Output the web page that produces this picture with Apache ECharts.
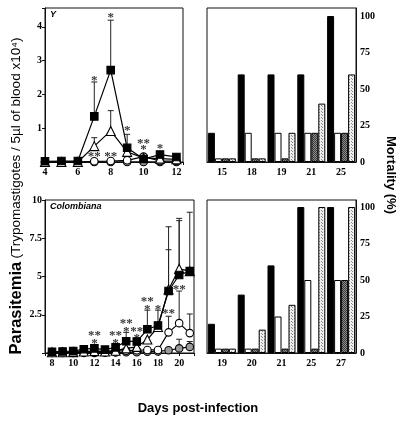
<!DOCTYPE html>
<html><head><meta charset="utf-8">
<script src="https://cdn.jsdelivr.net/npm/echarts@6/dist/echarts.min.js"></script>
<style>html,body{margin:0;padding:0;background:#fff}#c{width:402px;height:421px}</style>
</head><body><div id="c"></div>
<script>
// ---- Top-left (Y strain) parasitemia ----
const topDays = [4,5,6,7,8,9,10,11,12];
const topSquare = [0.02,0.03,0.03,1.35,2.72,0.42,0.09,0.22,0.15];
const topTriangle = [0,0,0,0.47,0.92,0.3,0.12,0.1,0.08];
const topCircle = [0,0,0,0.02,0.03,0.05,0.16,0.03,0.03];
const topGray = [0,0,0,0,0,0,0,0,0];
const topSquareUpper = [null,null,null,2.37,4.2,0.82,null,null,null];
const topTriangleUpper = [null,null,null,0.72,1.52,null,null,null,null];
const topStars = [[7,2.48,'*'],[8,4.35,'*'],[9,1.0,'*'],[7,0.24,'**'],[8,0.24,'**'],[10,0.61,'**'],[10,0.43,'*'],[11,0.48,'*']];

// ---- Bottom-left (Colombiana strain) parasitemia ----
const botDays = [8,9,10,11,12,13,14,15,16,17,18,19,20,21];
const botSquare = [0.08,0.1,0.12,0.25,0.3,0.22,0.37,0.77,0.75,1.55,1.8,4.05,5.1,5.35];
const botTriangle = [0.05,0.05,0.06,0.1,0.12,0.1,0.15,0.3,0.4,0.88,1.7,4.15,5.5,5.35];
const botCircle = [0.02,0.03,0.03,0.05,0.05,0.08,0.12,0.15,0.18,0.2,0.2,1.35,1.95,1.3];
const botGray = [0.01,0.01,0.01,0.01,0.01,0.02,0.03,0.05,0.05,0.08,0.1,0.18,0.3,0.4];
const botSquareUpper = [null,null,null,null,null,null,null,1.35,null,2.8,2.8,8.25,8.65,9.2];
const botTriangleUpper = [null,null,null,null,null,null,null,null,null,null,null,6.75,8.8,null];
const botCircleUpper = [null,null,null,null,null,null,null,null,null,null,null,2.4,4.05,2.55];
const botGrayUpper = [null,null,null,null,null,null,null,null,null,null,null,null,0.9,0.75];
const botStars = [[12,1.33,'**'],[12,0.79,'*'],[14,1.29,'**'],[14,0.79,'*'],[15,2.05,'**'],[15,1.58,'*'],[16,1.56,'**'],[16,1.12,'*'],[17,3.52,'**'],[17,3.0,'*'],[18,3.0,'*'],[19,2.71,'**'],[20,4.33,'**']];

// ---- Right panels: mortality (%) ----
const topCats = ['15','18','19','21','25'];
const topBlack = [20,60,60,60,100];
const topWhite = [2.5,20,20,20,20];
const topDark = [2.5,2.5,2.5,20,20];
const topLight = [2.5,2.5,20,40,60];
const botCats = ['19','20','21','25','27'];
const botBlack = [20,40,60,100,100];
const botWhite = [3,3,25,50,50];
const botDark = [3,3,3,3,50];
const botLight = [3,16,33,100,100];

function pattern(bg, dot, n) {
  const c = document.createElement('canvas'); c.width = n; c.height = n;
  const g = c.getContext('2d'); g.fillStyle = bg; g.fillRect(0,0,n,n);
  g.fillStyle = dot; g.fillRect(0,0,1,1); g.fillRect(Math.floor(n/2),Math.floor(n/2),1,1);
  return {image: c, repeat: 'repeat'};
}
const darkFill = pattern('#8c8c8c', '#3a3a3a', 2);
const lightFill = pattern('#efefef', '#8a8a8a', 3);

const chart = echarts.init(document.getElementById('c'));
const serif = 'Liberation Serif';
const sans = 'Liberation Sans';
const tickLabel = {fontFamily: serif, fontWeight: 'bold', fontSize: 10, color: '#000'};
const axisLine = {show: true, lineStyle: {color: '#111', width: 1}};

function pairs(days, vals) { return days.map((d,i)=>[d, vals[i]]); }
function errData(days, vals, ups) { const r=[]; days.forEach((d,i)=>{ if(ups[i]!=null) r.push([d, vals[i], ups[i]]); }); return r; }

function lineSeries(gi, days, vals, symbol, size, fill, z) {
  return {type:'line', xAxisIndex: gi, yAxisIndex: gi, data: pairs(days, vals), symbol, symbolSize: size,
    showAllSymbol: true, z, lineStyle:{color:'#000', width:1.2},
    itemStyle:{color: fill, borderColor:'#000', borderWidth:1.1}, animation:false};
}
function errSeries(gi, data) {
  return {type:'custom', xAxisIndex: gi, yAxisIndex: gi, data, z: 1, animation:false,
    encode:{x:0, y:[1,2]},
    renderItem(params, api) {
      const p0 = api.coord([api.value(0), api.value(1)]);
      const p1 = api.coord([api.value(0), api.value(2)]);
      return {type:'group', children:[
        {type:'line', shape:{x1:p0[0], y1:p0[1], x2:p1[0], y2:p1[1]}, style:{stroke:'#222', lineWidth:1}},
        {type:'line', shape:{x1:p1[0]-3, y1:p1[1], x2:p1[0]+3, y2:p1[1]}, style:{stroke:'#222', lineWidth:1}}
      ]};
    }};
}
function starSeries(gi, data) {
  return {type:'scatter', xAxisIndex: gi, yAxisIndex: gi, data, symbolSize: 2, z: 6, animation:false,
    itemStyle:{color:'rgba(0,0,0,0)'},
    label:{show:true, position:'inside', offset:[0,2.5], formatter: p => p.value[2],
      fontFamily: serif, fontWeight:'bold', fontSize: 13, color:'#000'}};
}
function barSeries(gi, vals, fill) {
  return {type:'bar', xAxisIndex: gi, yAxisIndex: gi, data: vals, barWidth: 7, barGap: '0%', animation:false,
    itemStyle:{color: fill, borderColor:'#000', borderWidth: 1}};
}

const frame = {show:true, borderColor:'#111', borderWidth:1, backgroundColor:'transparent'};

chart.setOption({
  animation: false,
  backgroundColor: '#fff',
  grid: [
    Object.assign({left:45, top:8, width:138, height:154}, frame),
    Object.assign({left:207, top:8, width:149, height:154}, frame),
    Object.assign({left:45, top:200, width:149, height:153}, frame),
    Object.assign({left:207, top:200, width:149, height:153}, frame)
  ],
  xAxis: [
    {type:'value', gridIndex:0, min:4, max:12.4, interval:2, splitLine:{show:false}, axisLine,
      axisTick:{length:3, lineStyle:{color:'#111'}},
      axisLabel: Object.assign({margin:5, formatter: v => (Math.abs(v-Math.round(v))<1e-6 && Math.round(v)%2===0) ? String(Math.round(v)) : ''}, tickLabel)},
    {type:'category', gridIndex:1, data: topCats, axisLine, axisTick:{alignWithLabel:true, length:3, lineStyle:{color:'#111'}},
      axisLabel: Object.assign({margin:5}, tickLabel)},
    {type:'value', gridIndex:2, min:7.34, max:21.4, minInterval:2, maxInterval:2, splitNumber:7, splitLine:{show:false}, axisLine,
      axisTick:{length:3, lineStyle:{color:'#111'}},
      axisLabel: Object.assign({margin:5, formatter: v => (Math.abs(v-Math.round(v))<1e-6 && Math.round(v)%2===0) ? String(Math.round(v)) : ''}, tickLabel)},
    {type:'category', gridIndex:3, data: botCats, axisLine, axisTick:{alignWithLabel:true, length:3, lineStyle:{color:'#111'}},
      axisLabel: Object.assign({margin:5}, tickLabel)}
  ],
  yAxis: [
    {type:'value', gridIndex:0, min:0, max:4.56, interval:1, splitLine:{show:false}, axisLine,
      axisTick:{length:3, lineStyle:{color:'#111'}},
      axisLabel: Object.assign({margin:3, formatter: v => (v>0 && Number.isInteger(v)) ? String(v) : ''}, tickLabel)},
    {type:'value', gridIndex:1, position:'right', min:0, max:105.5, interval:25, splitLine:{show:false}, axisLine,
      axisTick:{length:3, lineStyle:{color:'#111'}},
      axisLabel: Object.assign({margin:4, formatter: v => (v%25===0) ? String(v) : ''}, tickLabel)},
    {type:'value', gridIndex:2, min:0, max:10, interval:2.5, splitLine:{show:false}, axisLine,
      axisTick:{length:3, lineStyle:{color:'#111'}},
      axisLabel: Object.assign({margin:3, formatter: v => v>0 ? String(v) : ''}, tickLabel)},
    {type:'value', gridIndex:3, position:'right', min:0, max:104.8, interval:25, splitLine:{show:false}, axisLine,
      axisTick:{length:3, lineStyle:{color:'#111'}},
      axisLabel: Object.assign({margin:4, formatter: v => (v%25===0) ? String(v) : ''}, tickLabel)}
  ],
  series: [
    errSeries(0, errData(topDays, topSquare, topSquareUpper)),
    errSeries(0, errData(topDays, topTriangle, topTriangleUpper)),
    lineSeries(0, topDays, topGray, 'circle', 7.5, '#999', 2),
    lineSeries(0, topDays, topCircle, 'circle', 7.5, '#fff', 3),
    lineSeries(0, topDays, topTriangle, 'triangle', 9, '#fff', 4),
    lineSeries(0, topDays, topSquare, 'rect', 7.5, '#000', 5),
    starSeries(0, topStars),

    barSeries(1, topBlack, '#000'),
    barSeries(1, topWhite, '#fff'),
    barSeries(1, topDark, darkFill),
    barSeries(1, topLight, lightFill),

    errSeries(2, errData(botDays, botSquare, botSquareUpper)),
    errSeries(2, errData(botDays, botTriangle, botTriangleUpper)),
    errSeries(2, errData(botDays, botCircle, botCircleUpper)),
    errSeries(2, errData(botDays, botGray, botGrayUpper)),
    lineSeries(2, botDays, botGray, 'circle', 7.5, '#9a9a9a', 2),
    lineSeries(2, botDays, botCircle, 'circle', 7.5, '#fff', 3),
    lineSeries(2, botDays, botTriangle, 'triangle', 9, '#fff', 4),
    lineSeries(2, botDays, botSquare, 'rect', 7.5, '#000', 5),
    starSeries(2, botStars),

    barSeries(3, botBlack, '#000'),
    barSeries(3, botWhite, '#fff'),
    barSeries(3, botDark, darkFill),
    barSeries(3, botLight, lightFill)
  ],
  graphic: [
    {type:'text', left:50, top:10, style:{text:'Y', font:'italic bold 9px ' + sans, fill:'#000'}},
    {type:'text', left:50, top:202, style:{text:'Colombiana', font:'italic bold 9px ' + sans, fill:'#000'}},
    {type:'text', x:16, y:196, rotation: Math.PI/2, style:{
      text:'{a|Parasitemia} {b|(Trypomastigotes / 5µl of blood x10⁴)}', align:'center', verticalAlign:'middle',
      rich:{a:{fontFamily:sans, fontWeight:'bold', fontSize:16.5, fill:'#000'}, b:{fontFamily:sans, fontSize:13.5, fill:'#000'}}}},
    {type:'text', x:391, y:175, rotation: -Math.PI/2, style:{
      text:'Mortality (%)', align:'center', verticalAlign:'middle', font:'bold 13px ' + sans, fill:'#000'}},
    {type:'text', x:198, y:408, style:{
      text:'Days post-infection', align:'center', verticalAlign:'middle', font:'bold 13px ' + sans, fill:'#000'}}
  ]
});
</script></body></html>
